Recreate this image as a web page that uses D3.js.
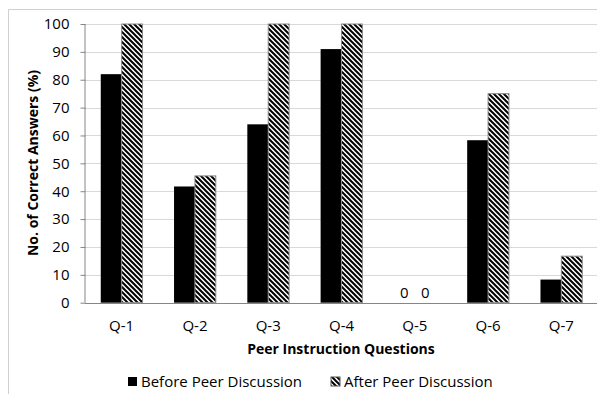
<!DOCTYPE html>
<html><head><meta charset="utf-8">
<script src="https://cdn.jsdelivr.net/npm/d3@7"></script>
<style>body{margin:0;background:#fff}svg{display:block;font-family:"Open Sans",sans-serif}</style>
</head><body>
<script>
const categories = ["Q-1","Q-2","Q-3","Q-4","Q-5","Q-6","Q-7"];
const before = [82, 41.7, 64, 91, 0, 58.3, 8.3];
const after = [100, 45.5, 100, 100, 0, 75, 16.7];
const seriesNames = ["Before Peer Discussion","After Peer Discussion"];
const yTicks = [0,10,20,30,40,50,60,70,80,90,100];
const zeroLabelCats = ["Q-5"];

const W = 597, H = 394;
const FONT = '"Open Sans",sans-serif';
const svg = d3.select("body").append("svg").attr("width", W).attr("height", H);
const defs = svg.append("defs");
const pat = defs.append("pattern").attr("id","hatch").attr("patternUnits","userSpaceOnUse")
  .attr("width",5).attr("height",5);
pat.append("rect").attr("width",5).attr("height",5).attr("fill","#fff");
pat.append("path").attr("d","M-1,-1 L6,6 M-1,4 L1,6 M4,-1 L6,1").attr("stroke","#000").attr("stroke-width",2);

// outer frame
svg.append("path").attr("d",`M8.5,${H} L8.5,9.5 L${W},9.5`).attr("fill","none").attr("stroke","#d0d0d0");

const x0 = d3.scaleBand().domain(categories).range([85, 598]).paddingInner(0.43).paddingOuter(0.215);
const x1 = d3.scaleBand().domain(seriesNames).range([0, x0.bandwidth()]);
const y = d3.scaleLinear().domain([0,100]).range([302.7, 24]);

// gridlines
svg.append("g").selectAll("line").data(yTicks.slice(1)).join("line")
  .attr("x1",85).attr("x2",W).attr("y1",d=>Math.round(y(d))+0.5).attr("y2",d=>Math.round(y(d))+0.5)
  .attr("stroke","#d9d9d9");

const data = [before, after];
const g = svg.append("g");
categories.forEach((c,i)=>{
  seriesNames.forEach((s,j)=>{
    const v = data[j][i];
    if (v <= 0) return;
    g.append("rect").attr("x", x0(c)+x1(s)).attr("width", x1.bandwidth())
      .attr("y", y(v)).attr("height", y(0)-y(v))
      .attr("fill", j===0 ? "#000" : "url(#hatch)")
      .attr("stroke", j===0 ? "none" : "#8c8c8c").attr("stroke-width", j===0?0:1);
  });
});

// zero labels
categories.forEach((c,i)=>{
  if (!zeroLabelCats.includes(c)) return;
  seriesNames.forEach((s,j)=>{
    svg.append("text").attr("x", x0(c)+x1(s)+x1.bandwidth()/2).attr("y", y(0)-5)
      .attr("text-anchor","middle").attr("font-size",15).text(data[j][i]);
  });
});

// y axis
const yAxis = svg.append("g").attr("transform","translate(85.5,0)")
  .call(d3.axisLeft(y).tickValues(yTicks).tickSize(5).tickPadding(11));
yAxis.select(".domain").attr("stroke","#868686").attr("d",`M-0.5,${y(100)}V${y(0)}`);
yAxis.selectAll(".tick line").attr("stroke","#868686");
yAxis.selectAll("text").attr("font-size",15).attr("fill","#000").attr("font-family",FONT);

// x axis
const xAxis = svg.append("g").attr("transform",`translate(0,${Math.round(y(0))+0.5})`)
  .call(d3.axisBottom(x0).tickSize(0).tickPadding(17));
xAxis.select(".domain").attr("stroke","#868686").attr("d",`M85,0H${W}`);
xAxis.selectAll("text").attr("font-size",15).attr("fill","#000").attr("font-family",FONT);

// axis titles
svg.append("text").attr("x",341).attr("y",354).attr("text-anchor","middle")
  .attr("font-size",14).attr("font-weight","bold").text("Peer Instruction Questions");
svg.append("text").attr("transform","translate(38,163) rotate(-90)").attr("text-anchor","middle")
  .attr("font-size",14).attr("font-weight","bold").text("No. of Correct Answers (%)");

// legend
const lg = svg.append("g");
const legX = [128, 331];
seriesNames.forEach((s,j)=>{
  lg.append("rect").attr("x",legX[j]).attr("y",377).attr("width",9).attr("height",9)
    .attr("fill", j===0?"#000":"url(#hatch)").attr("stroke", j===0?"none":"#555");
  lg.append("text").attr("x",legX[j]+13).attr("y",387).attr("font-size",15).text(s);
});
</script>
</body></html>
